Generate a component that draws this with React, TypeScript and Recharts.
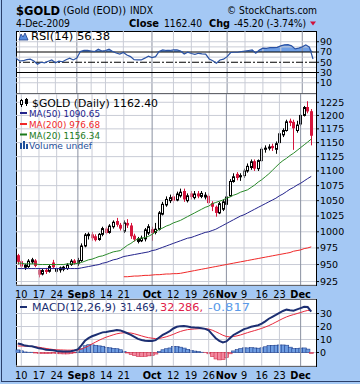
import React from 'react';
import { ComposedChart, Line, Bar, Area, XAxis, YAxis, CartesianGrid, ReferenceLine } from 'recharts';

const dates = ['Aug 7','Aug 10','Aug 11','Aug 12','Aug 13','Aug 14','Aug 17','Aug 18','Aug 19','Aug 20','Aug 21','Aug 24','Aug 25','Aug 26','Aug 27','Aug 28','Aug 31',
'Sep 1','Sep 2','Sep 3','Sep 4','Sep 8','Sep 9','Sep 10','Sep 11','Sep 14','Sep 15','Sep 16','Sep 17','Sep 18','Sep 21','Sep 22','Sep 23','Sep 24','Sep 25','Sep 28','Sep 29','Sep 30',
'Oct 1','Oct 2','Oct 5','Oct 6','Oct 7','Oct 8','Oct 12','Oct 13','Oct 14','Oct 15','Oct 16','Oct 19','Oct 20','Oct 21','Oct 22','Oct 23','Oct 26','Oct 27','Oct 28','Oct 29','Oct 30',
'Nov 2','Nov 3','Nov 4','Nov 5','Nov 6','Nov 9','Nov 10','Nov 11','Nov 12','Nov 13','Nov 16','Nov 17','Nov 18','Nov 19','Nov 20','Nov 23','Nov 24','Nov 25','Nov 26','Nov 27','Nov 30',
'Dec 1','Dec 2','Dec 3','Dec 4'];

const opens = [964,955,946,947,954,956,942,936,942,940,953,940,942,943,944,950,956,952,956,978,994,996,993,988,996,1005,999,1008,1017,1011,1001,1014,1010,994,985,986,989,998,1004,999,1004,1028,1043,1050,1057,1051,1058,1066,1050,1062,1055,1062,1057,1056,1058,1046,1040,1030,1036,1044,1058,1082,1095,1090,1092,1100,1106,1117,1104,1118,1138,1140,1144,1138,1150,1164,1172,1190,1188,1172,1184,1200,1216,1208];
const highs = [966,957,951,958,960,958,944,944,945,950,957,946,947,948,952,958,958,960,982,998,999,1000,996,998,1008,1008,1012,1018,1022,1014,1018,1020,1014,997,992,994,1006,1012,1008,1014,1033,1048,1057,1060,1061,1065,1070,1070,1062,1066,1066,1066,1066,1064,1062,1049,1042,1048,1052,1065,1086,1096,1098,1096,1104,1113,1120,1120,1120,1142,1145,1147,1148,1152,1170,1176,1192,1194,1192,1190,1203,1218,1227,1212];
const lows = [950,944,942,945,951,946,931,934,936,938,944,937,938,940,942,948,950,948,954,976,988,986,985,986,993,996,997,1005,1008,1002,998,1006,989,985,982,984,985,995,986,996,1002,1026,1040,1046,1046,1049,1055,1048,1047,1052,1052,1054,1054,1052,1044,1033,1024,1028,1033,1042,1056,1080,1084,1083,1088,1097,1102,1100,1100,1116,1132,1136,1135,1130,1148,1160,1170,1180,1137,1168,1180,1198,1204,1145];
const closes = [954,947,949,955,957,948,935,941,939,947,946,944,945,946,949,955,952,956,978,995,996,990,987,996,1005,998,1009,1015,1011,1005,1014,1010,993,988,989,990,1003,1008,998,1004,1030,1044,1052,1055,1050,1061,1064,1052,1058,1056,1061,1057,1062,1059,1046,1040,1030,1045,1048,1056,1082,1090,1088,1092,1100,1108,1116,1104,1118,1138,1140,1142,1140,1148,1166,1172,1188,1186,1176,1182,1200,1215,1207.6,1162.4];

const ma20 = [952,952,951,951,951,951,950,950,950,950,950,950,950,950,951,951,951,952,953,955,957,958,960,962,963,965,967,969,970,971,975,979,982,986,989,990,991,993,996,1000,1004,1006,1009,1011,1014,1016,1018,1021,1024,1027,1030,1033,1036,1039,1041,1045,1047,1049,1051,1054,1056,1059,1061,1064,1066,1068,1072,1076,1081,1085,1090,1095,1101,1107,1113,1118,1122,1127,1131,1136,1141,1146,1151,1156.34];
const ma50 = [944,944,944,944,944,944,944,944,944,944,944,944,944,944,944,944,944,944,945,946,947,948,949,950,952,953,955,957,958,960,962,963,964,965,966,967,968,969,971,972,974,976,978,980,982,984,986,988,990,991,993,995,997,999,1000,1002,1004,1007,1010,1013,1016,1019,1022,1025,1027,1030,1033,1036,1039,1042,1045,1048,1051,1054,1058,1061,1065,1069,1072,1076,1079,1083,1087,1090.65];
const ma200 = [null,null,null,null,null,null,null,null,null,null,null,null,null,null,null,null,null,null,null,null,null,null,null,null,null,null,null,null,null,null,
932,932,932.5,933,933,933.5,934,934,934.5,935,935,935.5,936,936,936.5,936.5,937,938,939,940,941,942,943,944,945,946,947,948,949,950,951,952,953,954,955,956,957,958,959,960,961,962,963,964,965,966,967,968,970,971,972,974,975,976.68];

const rsi14 = [57.8,52.5,53,55,56,52.5,46,50,49,52,54.5,49,52,51,55,58,54.5,58,71,73,73,72,71,75.5,72,73,75.5,71,68,66,69,64,61,55,54.5,54.5,58,62,59,61,71,74,73,73,74,74,72,66,69.5,67,65.5,67.5,66.5,66,56.5,53,48,54.5,56,61,69,69.5,69.5,71,72,73,74,67.5,74,77.5,77,78.5,78.5,79,82,84,84.5,82,76,77.5,80,84,79.5,56.38];

const macdLine = [7,6.3,5.3,5,4.8,4,3.2,2.8,2.2,2,1.8,1.2,1,0.8,0.7,1,1.5,2.4,5.5,9,11,12.5,13.5,14.5,15.5,15.8,16.3,16.8,17.3,17,16,14.8,13.5,12,10.5,9.6,9,8.8,8.8,9.5,11.5,13.5,15,16.5,18.5,19.8,20.3,20.4,20,19.5,19.2,19,18.6,18.2,17,14,11,9,7.8,8.5,11,13.5,15,16.5,18,18.8,19.8,20.4,21,22.2,24,26,27.5,29,30.6,32,33,32.5,32.2,33.2,34.2,35.2,35,31.469];
const signalLine = [5,5,4.9,4.8,4.6,4.4,4,3.6,3.1,2.7,2.3,2.1,2,1.9,1.8,1.8,1.8,1.9,2.6,3.8,5,6.6,8,9.4,10.7,11.8,12.7,13.6,14.4,14.9,15.2,15.2,15,14.4,13.6,12.8,12,11.4,11,10.7,10.8,11.4,12.1,13,14,15.2,16.2,17,17.6,17.9,18.1,18.3,18.4,18.3,18,17.2,16,14.7,13.3,12.3,12,12.3,12.8,13.5,14.4,15.3,16.1,16.9,17.7,18.6,19.6,20.7,22,23.4,24.8,26.2,27.4,28.4,29.2,30,30.8,31.7,32.4,32.286];
const histogram = [2,1.3,0.4,0.2,0.2,-0.4,-0.8,-0.8,-0.9,-0.7,-0.5,-0.9,-1,-1.1,-1.1,-0.8,-0.3,0.5,2.9,5.2,6,5.9,5.5,5.1,4.8,4,3.6,3.2,2.9,2.1,0.8,-0.4,-1.5,-2.4,-3.1,-3.2,-3,-2.6,-2.2,-1.2,0.7,2.1,2.9,3.5,4.5,4.6,4.1,3.4,2.4,1.6,1.1,0.7,0.2,-0.1,-1,-3.2,-5,-5.7,-5.5,-3.8,-1,1.2,2.2,3,3.6,3.5,3.7,3.5,3.3,3.6,4.4,5.3,5.5,5.6,5.8,5.8,5.6,4.1,3,3.2,3.4,3.5,2.6,-0.817];

const weekTicks = ['Aug 10','Aug 17','Aug 24','Sep 1','Sep 8','Sep 14','Sep 21','Oct 1','Oct 12','Oct 19','Oct 26','Nov 2','Nov 9','Nov 16','Nov 23','Dec 1'];
const weekLabels = ['10','17','24','Sep','8','14','21','Oct','12','19','26','Nov','9','16','23','Dec'];
const monthTicks = ['Sep 1','Oct 1','Nov 2','Dec 1'];
const priceTicks = [925,950,975,1000,1025,1050,1075,1100,1125,1150,1175,1200,1225];
const rsiTicks = [10,30,50,70,90];
const rsiGrid = [10,20,40,60,80,90];
const macdTicks = [0,10,20,30];

const rows = dates.map((d, i) => ({
  date: d, o: opens[i], h: highs[i], l: lows[i], c: closes[i],
  ma20: ma20[i], ma50: ma50[i], ma200: ma200[i],
  rsi: rsi14[i], macd: macdLine[i], signal: signalLine[i], hist: histogram[i],
}));

const FONT = 'DejaVu Sans, Verdana, sans-serif';
const GRID = '#c9ccd6';
const MONTH = '#8a90a0';
const RED = '#d6143c';

const Candle = (props: any) => {
  const { x, y, width, height, payload } = props;
  if (x == null || payload == null) return null;
  const top = Math.min(y, y + height);
  const bot = Math.max(y, y + height);
  const { o, h, l, c } = payload;
  const lh = Math.log(h), ll = Math.log(l);
  const py = (v: number) => top + (bot - top) * (lh - Math.log(v)) / (lh - ll);
  const cx = Math.floor(x + width / 2);
  const up = c >= o;
  const bTop = py(Math.max(o, c));
  const bBot = py(Math.min(o, c));
  const color = up ? '#000' : RED;
  return (
    <g>
      <line x1={cx + 0.5} x2={cx + 0.5} y1={top} y2={bot} stroke={color} strokeWidth={1} />
      {up ? (
        <rect x={cx - 0.5} y={bTop} width={2} height={Math.max(bBot - bTop, 1)} fill="#fff" stroke="#000" strokeWidth={1} />
      ) : (
        <rect x={cx - 1} y={bTop} width={3} height={Math.max(bBot - bTop, 1)} fill={color} />
      )}
    </g>
  );
};

const HistBar = (props: any) => {
  const { x, y, width, height, payload } = props;
  if (x == null || payload == null) return null;
  const top = Math.min(y, y + height);
  const h = Math.abs(height);
  const pos = payload.hist >= 0;
  return <rect x={x} y={top} width={width} height={h} fill={pos ? '#6e9de2' : '#f2899f'} stroke={pos ? '#1f3f8c' : '#d0304c'} strokeWidth={0.6} />;
};

const XTick = (props: any) => {
  const { x, y, payload } = props;
  const idx = weekTicks.indexOf(payload.value);
  const bold = monthTicks.includes(payload.value);
  return (
    <text x={x} y={y + 12.5} textAnchor="middle" fontSize={9.8} fontFamily={FONT} fontWeight={bold ? 'bold' : 'normal'} fill="#000">
      {idx >= 0 ? weekLabels[idx] : ''}
    </text>
  );
};

const vLines = () => weekTicks.map((t) => (
  <ReferenceLine key={t} x={t} stroke={monthTicks.includes(t) ? MONTH : GRID} strokeWidth={1} ifOverflow="visible" />
));

const yTick = { fontSize: 9.5, fill: '#000', fontFamily: FONT };

const panel = (top: number, height: number): React.CSSProperties => ({
  position: 'absolute', left: 16, top, width: 301, height, boxSizing: 'border-box',
  border: '1px solid #000', background: '#fff',
});

export default function App() {
  return (
    <div style={{ position: 'absolute', left: 0, top: 0, width: 360, height: 384, background: '#a4c8f4', overflow: 'hidden', fontFamily: FONT }}>
      <div style={{ position: 'absolute', left: 1, top: 0, width: 1, height: 382, background: '#2a3f6a' }} />
      <div style={{ position: 'absolute', left: 1, top: 381, width: 359, height: 1, background: '#2a3f6a' }} />
      <div style={panel(31, 63)} />
      <div style={panel(93, 193)} />
      <div style={panel(299, 68)} />

      {/* RSI panel */}
      <div style={{ position: 'absolute', left: 0, top: 26 }}>
        <ComposedChart width={360} height={72} data={rows} margin={{ top: 5, right: 0, bottom: 5, left: 16 }}>
          <XAxis dataKey="date" hide padding={{ left: 0, right: 3 }} />
          <YAxis orientation="right" width={44} domain={[-10, 111]} ticks={rsiTicks} allowDataOverflow axisLine={false} tickSize={3} tickMargin={1} tickLine={{ stroke: '#000' }} tick={yTick} interval={0} />
          {vLines()}
          {rsiGrid.map((v) => <ReferenceLine key={v} y={v} stroke={GRID} />)}
          <Area dataKey={(d: any) => [70, Math.max(70, d.rsi)]} stroke="none" fill="#6f9fe6" fillOpacity={1} isAnimationActive={false} />
          <ReferenceLine y={70} stroke="#000" strokeWidth={1} />
          <ReferenceLine y={30} stroke="#000" strokeWidth={1} />
          <ReferenceLine y={50} stroke="#000" strokeWidth={1} strokeDasharray="7 2 2 2" />
          <Line dataKey="rsi" stroke="#2a52a4" strokeWidth={1.2} dot={false} isAnimationActive={false} />
        </ComposedChart>
      </div>

      {/* Price panel */}
      <div style={{ position: 'absolute', left: 0, top: 90 }}>
        <ComposedChart width={360} height={212} data={rows} margin={{ top: 4, right: 0, bottom: 0, left: 16 }} barCategoryGap={0}>
          <CartesianGrid vertical={false} stroke={GRID} />
          <XAxis dataKey="date" ticks={weekTicks} interval={0} tick={<XTick />} tickLine={false} axisLine={false} tickSize={0} tickMargin={0} height={17} padding={{ left: 0, right: 3 }} />
          <YAxis orientation="right" width={44} scale="log" domain={[920, 1241]} ticks={priceTicks} allowDataOverflow axisLine={false} tickSize={3} tickMargin={1} tickLine={{ stroke: '#000' }} tick={yTick} interval={0} />
          {vLines()}
          <Line dataKey="ma200" stroke="#f02828" strokeWidth={1} dot={false} isAnimationActive={false} />
          <Line dataKey="ma50" stroke="#23238c" strokeWidth={1} dot={false} isAnimationActive={false} />
          <Line dataKey="ma20" stroke="#2a8a2a" strokeWidth={1} dot={false} isAnimationActive={false} />
          <Bar dataKey={(d: any) => [d.l, d.h]} shape={(p: any) => <Candle {...p} />} isAnimationActive={false} />
        </ComposedChart>
      </div>

      {/* MACD panel */}
      <div style={{ position: 'absolute', left: 0, top: 295 }}>
        <ComposedChart width={360} height={88} data={rows} margin={{ top: 4, right: 0, bottom: 0, left: 16 }} barCategoryGap={0}>
          <CartesianGrid vertical={false} stroke={GRID} />
          <XAxis dataKey="date" ticks={weekTicks} interval={0} tick={<XTick />} tickLine={false} axisLine={false} tickSize={0} tickMargin={0} height={17} padding={{ left: 0, right: 3 }} />
          <YAxis orientation="right" width={44} domain={[-10.4, 41.2]} ticks={macdTicks} allowDataOverflow axisLine={false} tickSize={3} tickMargin={1} tickLine={{ stroke: '#000' }} tick={yTick} interval={0} />
          {vLines()}
          <Bar dataKey="hist" shape={(p: any) => <HistBar {...p} />} isAnimationActive={false} />
          <Line dataKey="signal" stroke="#e8283c" strokeWidth={1} dot={false} isAnimationActive={false} />
          <Line dataKey="macd" stroke="#1c2f72" strokeWidth={2} dot={false} isAnimationActive={false} />
        </ComposedChart>
      </div>

      {/* Text overlay */}
      <svg width={360} height={384} style={{ position: 'absolute', left: 0, top: 0, pointerEvents: 'none' }} fontFamily={FONT}>
        <text x={16} y={15} fontSize={12.5} fontWeight="bold" fill="#000" textLength={44} lengthAdjust="spacingAndGlyphs">$GOLD</text>
        <text x={63} y={14} fontSize={10} fill="#000" textLength={63} lengthAdjust="spacingAndGlyphs">(Gold (EOD))</text>
        <text x={130} y={14} fontSize={10} fill="#000" textLength={23} lengthAdjust="spacingAndGlyphs">INDX</text>
        <text x={227} y={14} fontSize={10} fill="#000" textLength={90} lengthAdjust="spacingAndGlyphs">© StockCharts.com</text>
        <text x={16} y={27} fontSize={10} fill="#000" textLength={54} lengthAdjust="spacingAndGlyphs">4-Dec-2009</text>
        <text x={129} y={27} fontSize={10} fontWeight="bold" fill="#000" textLength={30} lengthAdjust="spacingAndGlyphs">Close</text>
        <text x={164} y={27} fontSize={10} fill="#000" textLength={38} lengthAdjust="spacingAndGlyphs">1162.40</text>
        <text x={209} y={27} fontSize={10} fontWeight="bold" fill="#000" textLength={21} lengthAdjust="spacingAndGlyphs">Chg</text>
        <text x={234} y={27} fontSize={10} fill="#000" textLength={72} lengthAdjust="spacingAndGlyphs">-45.20 (-3.74%)</text>
        <polygon points="310,21.5 316,21.5 313,25.5" fill="#d0103a" />

        {/* RSI legend */}
        <polygon points="19,40 21,34 23,37 25,33 28,40" fill="#5b8fe0" stroke="#1f3f8c" strokeWidth={0.8} />
        <text x={31} y={40} fontSize={10} fill="#000" textLength={79} lengthAdjust="spacingAndGlyphs">RSI(14) 56.38</text>

        {/* Price legend */}
        <g>
          <line x1={21.5} x2={21.5} y1={99} y2={107} stroke="#000" />
          <rect x={20.5} y={100.5} width={2} height={4} fill="#fff" stroke="#000" />
          <line x1={26.5} x2={26.5} y1={98} y2={106} stroke="#000" />
          <rect x={25.5} y={99.5} width={2} height={4} fill="#000" stroke="#000" />
        </g>
        <text x={32} y={106.5} fontSize={10} fill="#000" textLength={126} lengthAdjust="spacingAndGlyphs">$GOLD (Daily) 1162.40</text>
        <rect x={20} y={112} width={7} height={2} fill="#23238c" />
        <text x={29} y={117} fontSize={9.5} fill="#23238c" textLength={71} lengthAdjust="spacingAndGlyphs">MA(50) 1090.65</text>
        <rect x={20} y={123} width={7} height={2} fill="#f02828" />
        <text x={29} y={128} fontSize={9.5} fill="#f02828" textLength={71} lengthAdjust="spacingAndGlyphs">MA(200) 976.68</text>
        <rect x={20} y={133.5} width={7} height={2} fill="#1a7a1a" />
        <text x={29} y={138.5} fontSize={9.5} fill="#1a7a1a" textLength={71} lengthAdjust="spacingAndGlyphs">MA(20) 1156.34</text>
        <rect x={20} y={143} width={2} height={6} fill="#1f4f9a" />
        <rect x={23} y={141} width={2} height={8} fill="#1f4f9a" />
        <rect x={26} y={144} width={2} height={5} fill="#1f4f9a" />
        <text x={29} y={149} fontSize={9.5} fill="#1f4f9a" textLength={63} lengthAdjust="spacingAndGlyphs">Volume undef</text>

        {/* MACD legend */}
        <rect x={20} y={306} width={7} height={2} fill="#1c2f72" />
        <text x={32} y={310.5} fontSize={10} fill="#1c2f72" textLength={84} lengthAdjust="spacingAndGlyphs">MACD(12,26,9)</text>
        <text x={120} y={310.5} fontSize={10} fill="#1c2f72" textLength={38} lengthAdjust="spacingAndGlyphs">31.469,</text>
        <text x={160} y={310.5} fontSize={10} fill="#e0204a" textLength={43} lengthAdjust="spacingAndGlyphs">32.286,</text>
        <text x={208} y={310.5} fontSize={10} fill="#5a9ae8" textLength={42} lengthAdjust="spacingAndGlyphs">-0.817</text>
      </svg>
    </div>
  );
}
